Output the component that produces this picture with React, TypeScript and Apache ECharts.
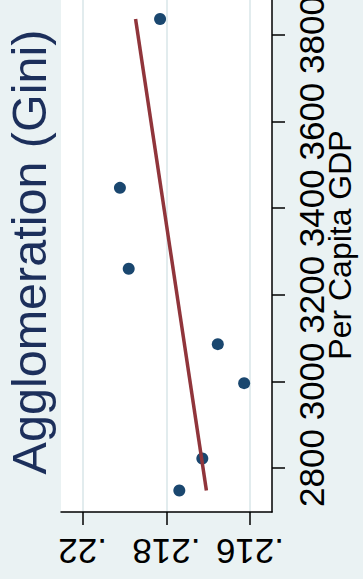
import React, { useEffect, useRef } from "react";
import * as echarts from "echarts";

// Per capita GDP (vertical, right) against the Gini agglomeration index (horizontal, reversed)
const gdp = [3837, 3447, 3260, 3086, 2996, 2822, 2748];
const gini = [0.21815, 0.21911, 0.2189, 0.21677, 0.21614, 0.21714, 0.21769];

const gdpTicks = [2800, 3000, 3200, 3400, 3600, 3800];
const giniTicks = [0.216, 0.218, 0.22];

const titleText = "Agglomeration (Gini)";
const gdpTitle = "Per Capita GDP";

const FONT = "'Liberation Sans', Arial, Helvetica, sans-serif";

// Least-squares fit of gini on gdp, drawn across the observed GDP range
function linearFit(xs: number[], ys: number[]) {
  const n = xs.length;
  const mx = xs.reduce((a, b) => a + b, 0) / n;
  const my = ys.reduce((a, b) => a + b, 0) / n;
  let sxy = 0;
  let sxx = 0;
  for (let i = 0; i < n; i++) {
    sxy += (xs[i] - mx) * (ys[i] - my);
    sxx += (xs[i] - mx) * (xs[i] - mx);
  }
  const slope = sxy / sxx;
  const icpt = my - slope * mx;
  const lo = Math.min(...xs);
  const hi = Math.max(...xs);
  return [
    [icpt + slope * lo, lo],
    [icpt + slope * hi, hi],
  ];
}

const fmtGini = (v: number) => String(Number(v.toFixed(3))).replace(/^0/, "");

export default function App() {
  const ref = useRef<HTMLDivElement>(null);

  useEffect(() => {
    if (!ref.current) return;
    const chart = echarts.init(ref.current, undefined, { renderer: "svg" });
    const points = gini.map((g, i) => [g, gdp[i]]);
    const fit = linearFit(gdp, gini);

    chart.setOption({
      animation: false,
      backgroundColor: "#EAF2F3",
      textStyle: { fontFamily: FONT },
      grid: {
        left: 61,
        right: 91,
        top: -22,
        bottom: 67,
        show: true,
        backgroundColor: "#ffffff",
        borderWidth: 0,
        containLabel: false,
        outerBoundsMode: "none",
      },
      xAxis: {
        type: "value",
        inverse: true,
        min: 0.215474,
        max: 0.220519,
        axisLine: { show: true, onZero: false, lineStyle: { color: "#000", width: 1.5 } },
        axisTick: {
          show: true,
          length: 13,
          customValues: giniTicks,
          lineStyle: { color: "#000", width: 1.5 },
        },
        axisLabel: {
          customValues: giniTicks,
          rotate: 180,
          margin: 39,
          align: "center",
          verticalAlign: "middle",
          fontSize: 35,
          fontFamily: FONT,
          color: "#000",
          formatter: (v: number) => fmtGini(v),
        },
        splitLine: { show: true, lineStyle: { color: "#E2ECEE", width: 2 } },
      },
      yAxis: {
        type: "value",
        position: "right",
        min: 2698.4,
        max: 3931.6,
        name: gdpTitle,
        nameLocation: "middle",
        nameRotate: 90,
        nameGap: 52,
        nameMoveOverlap: false,
        nameTextStyle: { fontSize: 32, color: "#000", fontFamily: FONT },
        axisLine: { show: true, onZero: false, lineStyle: { color: "#000", width: 1.5 } },
        axisTick: {
          show: true,
          length: 13,
          customValues: gdpTicks,
          lineStyle: { color: "#000", width: 1.5 },
        },
        axisLabel: {
          customValues: gdpTicks,
          rotate: 90,
          margin: 39,
          align: "center",
          verticalAlign: "middle",
          fontSize: 35,
          fontFamily: FONT,
          color: "#000",
          formatter: (v: number) => String(v),
        },
        splitLine: { show: false },
      },
      graphic: [
        {
          type: "text",
          x: 29,
          y: 252,
          rotation: Math.PI / 2,
          style: {
            text: titleText,
            font: "48.5px 'Liberation Sans', Arial, sans-serif",
            fontSize: 48.5,
            fill: "#1c2f5b",
            align: "center",
            verticalAlign: "middle",
          },
        },
      ],
      series: [
        {
          type: "scatter",
          data: points,
          symbol: "circle",
          symbolSize: 12,
          itemStyle: { color: "#1a476f", opacity: 1 },
          z: 2,
        },
        {
          type: "line",
          data: fit,
          showSymbol: false,
          symbol: "none",
          lineStyle: { color: "#90353b", width: 3.5 },
          z: 3,
        },
      ],
    });
    return () => chart.dispose();
  }, []);

  return (
    <div
      ref={ref}
      style={{ position: "fixed", left: 0, top: 0, width: 363, height: 579 }}
    />
  );
}
